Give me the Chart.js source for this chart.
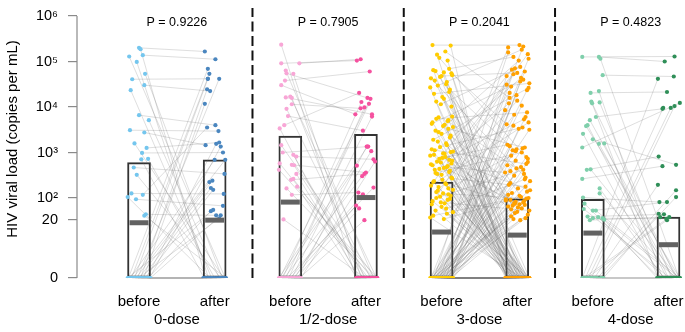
<!DOCTYPE html>
<html>
<head>
<meta charset="utf-8">
<script src="https://cdn.jsdelivr.net/npm/chart.js@4.4.0/dist/chart.umd.min.js"></script>
<style>
  html, body { margin: 0; padding: 0; background: #fff; }
</style>
</head>
<body>
<canvas id="vl-chart" width="685" height="332"></canvas>
<script>
// viral load as log10(copies per mL); 0 = undetectable (plotted at 0)
var groups = ['0-dose', '1/2-dose', '3-dose', '4-dose'];
var sides = ['before', 'after'];
var pValues = ['P = 0.9226', 'P = 0.7905', 'P = 0.2041', 'P = 0.4823'];
var barBefore = [2.78, 3.36, 2.35, 1.96];
var barAfter = [2.84, 3.40, 1.97, 1.39];
var medianBefore = [1.28, 1.87, 1.20, 1.19];
var medianAfter = [1.30, 2.01, 1.17, 1.06];
var tickCopies = [0, 20, 100, 1e3, 1e4, 1e5, 1e6];
var tickLabels = ['0', '20', '10²', '10³', '10⁴', '10⁵', '10⁶'];

// 0-dose, paired per subject (jitter in hundredths of a slot)
var before0 = [5.30, 5.14, 4.61, 4.48, 3.82, 3.49, 3.44, 3.10, 2.99, 2.67, 2.10, 1.96, 1.48, 2.07,
  5.27, 5.11, 4.99, 4.73, 4.37, 3.71, 3.20, 2.85, 2.86, 2.51, 2.02, 1.44,
  0, 0, 0, 0, 0, 0, 0, 0, 0, 0, 0, 0, 0, 0, 0, 0, 0, 0,
  0, 0, 0, 0, 0, 0];
var after0 = [5.22, 5.05, 4.62, 4.35, 3.60, 3.47, 3.16, 3.22, 3.00, 2.53, 2.09, 1.75, 1.45, 3.55,
  0, 0, 0, 0, 0, 0, 0, 0, 0, 0, 0, 0,
  4.84, 4.73, 4.62, 4.62, 4.39, 4.07, 3.19, 3.13, 2.84, 2.84, 2.35, 2.38, 2.22, 2.18, 1.58, 1.62, 1.45, 1.35,
  0, 0, 0, 0, 0, 0];
var jitB0 = [0, 5, -9, 7, 0, -12, 7, 10, 4, -7, -10, -4, 9, 5,
  2, -13, -3, 8, -11, 13, -6, 3, 12, -3, -15, 7,
  -14, -10, -6, -2, 2, 6, 10, 14, -12, -8, -4, 0, 4, 8, 12, -15, 15, -1,
  -9, 11, -5, 3, 13, -1];
var jitA0 = [-13, 1, -9, -6, 1, 5, -12, 6, 11, 13, 12, 11, 2, -10,
  -12, 14, -8, 10, -4, 6, 12, -14, 0, 8, -6, 15,
  -9, -7, -9, 6, -10, -13, 2, 8, 0, 14, -7, -3, -5, -2, -5, -2, 8, 6,
  3, -10, 9, -3, 13, -15];

// 1/2-dose
var before12 = [4.96, 4.96, 4.58, 4.74, 4.48, 4.21, 4.06, 3.80, 3.60, 3.00, 2.91, 2.73, 2.40, 2.07,
  5.37, 4.80, 4.73, 4.23, 4.20, 3.96, 3.53, 3.16, 2.95, 2.76, 2.72, 2.62, 2.53, 2.42, 2.25, 2.21, 1.32,
  0, 0, 0, 0, 0, 0, 0, 0, 0, 0, 0, 0, 0, 0, 0, 0,
  0, 0, 0, 0, 0];
var after12 = [5.02, 5.05, 4.78, 4.20, 3.84, 3.84, 3.97, 3.48, 4.31, 3.13, 2.85, 2.56, 2.53, 2.12,
  0, 0, 0, 0, 0, 0, 0, 0, 0, 0, 0, 0, 0, 0, 0, 0, 0,
  4.18, 4.11, 4.07, 3.99, 3.79, 3.03, 3.13, 2.80, 2.71, 2.48, 2.23, 2.08, 1.76, 1.67, 1.30, 3.13,
  0, 0, 0, 0, 0];
var jitB12 = [-12, 12, -7, -5, -12, -6, 2, -3, -8, -10, 8, 2, 1, 2,
  -12, -6, 4, 0, 2, -5, -14, -12, 4, -14, 5, -15, 8, 4, 9, -5, -9,
  -14, -10, -6, -2, 2, 6, 10, 14, -12, -8, -4, 0, 4, 8, 12, -15,
  -11, 5, -3, 13, 1];
var jitA12 = [-12, -7, 5, 2, -14, 8, -7, -4, -9, 3, 10, 0, -2, -10,
  -13, 10, -6, 14, -2, 6, -10, 12, -4, 8, 0, 15, -8, 3, -12, 11, -1,
  6, -6, 4, -2, 8, 7, 1, 12, -12, -5, 10, -4, -13, -9, -2, 2,
  7, -11, 1, 15, -7];

// 3-dose
var before3 = [5.36, 5.22, 5.08, 4.84, 4.79, 4.74, 4.68, 4.63, 4.55, 4.47,
  4.38, 4.29, 4.18, 4.06, 3.79, 3.74, 3.69, 3.63, 3.58, 3.52,
  3.45, 3.37, 3.28, 3.20, 3.12, 3.02, 3.05, 2.97, 2.93, 2.88,
  2.84, 2.80, 2.76, 2.72, 2.68, 2.64, 2.60, 2.55, 2.51, 2.43,
  2.37, 2.32, 2.27, 2.21, 2.16, 2.10, 2.05, 2.00, 1.94, 1.86,
  1.80, 1.66, 1.55, 1.44, 1.33,
  5.35, 5.15, 5.02, 4.81, 4.76, 4.70, 4.66, 4.58, 4.50, 4.43,
  4.33, 4.22, 4.12, 4.01, 3.77, 3.71, 3.66, 3.61, 3.56, 3.48,
  3.41, 3.33, 3.24, 3.16, 3.07, 2.98, 3.01, 2.95, 2.90, 2.86,
  2.82, 2.78, 2.74, 2.70, 2.66, 2.62, 2.57, 2.53, 2.45, 2.40,
  2.35, 2.30, 2.24, 2.18, 2.13, 2.08, 2.03, 1.97, 1.90, 1.83,
  1.72, 1.60, 1.50, 1.38,
  0, 0, 0, 0, 0, 0, 0, 0, 0, 0, 0, 0, 0, 0, 0, 0, 0, 0, 0, 0, 0, 0, 0,
  0, 0, 0, 0, 0, 0, 0, 0, 0, 0, 0, 0, 0, 0, 0, 0, 0, 0, 0, 0, 0, 0, 0,
  0, 0, 0, 0, 0, 0, 0, 0, 0, 0, 0, 0, 0, 0, 0];
var after3 = [5.36, 4.20, 2.86, 5.10, 1.90, 3.62, 4.75, 2.45, 1.64, 5.26,
  3.03, 4.52, 2.07, 4.88, 1.76, 3.88, 2.65, 4.60, 1.96, 3.11,
  5.02, 2.33, 4.42, 1.84, 3.55, 4.08, 2.75, 1.52, 4.64, 3.17,
  2.17, 4.82, 1.70, 3.73, 2.56, 5.16, 1.88, 3.00, 4.31, 2.25,
  4.72, 1.80, 3.66, 2.93, 4.14, 1.98, 5.31, 2.62, 3.83, 1.60,
  4.49, 2.41, 3.07, 2.02, 1.94,
  0, 0, 0, 0, 0, 0, 0, 0, 0, 0, 0, 0, 0, 0, 0, 0, 0, 0, 0, 0, 0, 0, 0, 0, 0, 0, 0,
  0, 0, 0, 0, 0, 0, 0, 0, 0, 0, 0, 0, 0, 0, 0, 0, 0, 0, 0, 0, 0, 0, 0, 0, 0, 0, 0,
  5.33, 5.20, 5.06, 4.85, 4.78, 4.68, 4.56, 4.45, 4.37, 4.26,
  4.03, 3.93, 3.78, 3.59, 3.52, 3.50, 3.14, 3.09, 3.05, 2.90,
  2.82, 2.79, 2.72, 2.68, 2.59, 2.53, 2.49, 2.37, 2.29, 2.21,
  2.14, 2.11, 2.05, 2.00, 1.92, 1.86, 1.82, 1.78, 1.73, 1.67,
  1.56, 1.47, 1.42, 1.36, 1.33, 1.30,
  0, 0, 0, 0, 0, 0, 0, 0, 0, 0, 0, 0, 0, 0, 0];
var jitB3 = [-12, 5, -3, 10, -8, 13, 0, -14, 7, -5, 11, -10, 3, -1, 14, -7, 8, -13, 2, 9,
  -4, 12, -11, 6, -2, 15, -9, 4, -15, 1, 10, -6, 13, -12, 7, -3, 11, -8, 0, 14,
  -10, 5, -14, 9, -5, 2, 12, -7, 8, -1, -13, 6, 15, -11, 3,
  12, -6, 8, -11, 3, 14, -2, -9, 6, -15, 10, 1, -7, 13, -4, 9, -12, 4, 15, -8,
  0, 11, -5, 7, -13, 2, 12, -10, 5, -3, 14, -1, -14, 8, 3, -9, 10, -6, 13, 1,
  -11, 6, -4, 15, -7, 9, -2, 11, -12, 4, 0, -8, 7, -15,
  -14, -10, -6, -2, 2, 6, 10, 14, -12, -8, -4, 0, 4, 8, 12, -15, -11, -7, -3, 1,
  5, 9, 13, -13, -9, -5, -1, 3, 7, 11, 15, -14, -10, -6, -2, 2, 6, 10, 14, -12,
  -8, -4, 0, 4, 8, 12,
  -13, 9, -5, 1, 11, -9, 5, -1, 13, -3, 7, -11, 3, 15, -7];
var jitA3 = [3, -10, 14, -5, 9, -14, 0, 11, -8, 6, -2, 16, -12, 4, -6, 13, -1, 8, -15, 10,
  2, -9, 15, -4, 7, -11, 12, -3, 5, -13, 17, -7, 1, 9, -16, 14, -2, 6, -10, 11,
  -5, 3, 15, -8, 0, 12, -12, 8, -4, 16, -14, 10, -1, 5, -9,
  -15, -11, -7, -3, 1, 5, 9, 13, 16, -13, -9, -5, -1, 3, 7, 11, 15, -14, -10, -6,
  -2, 2, 6, 10, 14, -12, -8, -4, 0, 4, 8, 12, 16, -15, -11, -7, -3, 1, 5, 9,
  13, -13, -9, -5, -1, 3, 7, 11, 15, -10, -6, -2, 2, 6,
  8, -12, 15, -3, 10, -14, 4, -8, 13, -1, 6, -16, 11, -5, 2, 16, -10, 7, -6, 12,
  -2, 14, -13, 5, -9, 9, -4, 17, -11, 1, 13, -7, 3, 15, -15, 8, -3, 10, -12, 6,
  0, 14, -8, 11, -5, 4,
  12, -8, 4, -14, 16, -2, 8, -12, 0, 14, -6, 10, -10, 2, -16];

// 4-dose
var before4 = [5.10, 5.10, 4.70, 4.31, 3.78, 3.11, 2.62, 2.42, 3.29, 2.01, 1.60, 1.41, 1.30, 1.36,
  5.06, 4.35, 4.12, 4.08, 4.10, 3.71, 3.60, 3.58, 3.41, 3.19, 3.20, 2.63, 2.21, 2.10, 1.82, 1.65, 1.60, 1.39, 1.36, 1.31,
  0, 0, 0, 0, 0, 0, 0, 0, 0, 0,
  0, 0, 0, 0];
var after4 = [5.11, 5.00, 4.67, 4.33, 3.96, 4.09, 2.91, 2.70, 2.73, 1.87, 1.87, 1.48, 1.39, 1.34,
  0, 0, 0, 0, 0, 0, 0, 0, 0, 0, 0, 0, 0, 0, 0, 0, 0, 0, 0, 0,
  4.62, 3.98, 3.98, 4.02, 2.29, 2.17, 2.02, 1.50, 1.39, 1.30,
  0, 0, 0, 0];
var jitB4 = [-14, 8, 13, -3, 4, -14, -8, -14, 0, -13, 0, -7, -4, 0,
  10, 8, -2, -1, 9, -4, -7, -9, -13, 8, 15, -3, 9, 9, -11, -12, 4, 7, 13, 15,
  -14, -10, -6, -2, 2, 6, 10, 14, -12, -8,
  -4, 0, 4, 12];
var jitA4 = [8, -5, 7, -2, -8, 15, -13, -8, 10, -12, -2, -6, -11, -3,
  14, -8, 10, -14, 4, 12, -2, 15, -10, 6, 0, 13, -6, 9, -12, 2, 15, -4, 11, -15,
  -14, -7, 3, 8, -14, 10, 10, -13, 1, -2,
  -9, 5, -13, 7];

var colorsBefore = ['#74c6ee', '#f8a6d6', '#ffcc00', '#7fcfab'];
var colorsAfter = ['#4a86bf', '#f5519f', '#ffa000', '#2f8f58'];

// axis mapping: log10 above 100, compressed 20..100, linear 0..20
var P20 = 58 / 45.5, P100 = 80 / 45.5;
function pos(e) {
  if (!e) return 0;
  if (e >= 2) return e - 2 + P100;
  var l20 = Math.log10(20);
  if (e >= l20) return P20 + (e - l20) / Math.log10(5) * (P100 - P20);
  return Math.pow(10, e) / 20 * P20;
}
var yTop = pos(6);
var yMax = yTop + 16 / 45.5;
var xMin = 0.18, xMax = 8.205;
var font = '"Liberation Sans", Arial, sans-serif';

var groupData = [
  { b: before0, a: after0, jb: jitB0, ja: jitA0 },
  { b: before12, a: after12, jb: jitB12, ja: jitA12 },
  { b: before3, a: after3, jb: jitB3, ja: jitA3 },
  { b: before4, a: after4, jb: jitB4, ja: jitA4 }
];

var datasets = [];

// bars
var barPoints = [];
barBefore.forEach(function (v, g) {
  barPoints.push({ x: 2 * g + 1, y: pos(v) });
  barPoints.push({ x: 2 * g + 2, y: pos(barAfter[g]) });
});
datasets.push({
  type: 'bar', data: barPoints, barThickness: 23, grouped: false,
  backgroundColor: 'rgba(255,255,255,0)', borderColor: '#333',
  borderWidth: 1.3, borderSkipped: false, order: 6
});

// paired lines and points
groupData.forEach(function (g, gi) {
  var xb = 2 * gi + 1, xa = 2 * gi + 2;
  var ptsB = [], ptsA = [];
  g.b.forEach(function (v, i) {
    var bx = xb + (g.jb[i] || 0) / 100, by = pos(v);
    var ax = xa + (g.ja[i] || 0) / 100, ay = pos(g.a[i]);
    ptsB.push({ x: bx, y: by });
    ptsA.push({ x: ax, y: ay });
    datasets.push({
      type: 'line', data: [{ x: bx, y: by }, { x: ax, y: ay }],
      borderColor: 'rgba(95,95,95,0.28)', borderWidth: 0.75,
      pointRadius: 0, fill: false, tension: 0, order: 5, clip: false
    });
  });
  // clipped to the plot area so undetectable points show as a thin band
  datasets.push({ type: 'scatter', data: ptsB, backgroundColor: colorsBefore[gi], pointRadius: 2.1, borderWidth: 0, order: 2, clip: 0 });
  datasets.push({ type: 'scatter', data: ptsA, backgroundColor: colorsAfter[gi], pointRadius: 2.1, borderWidth: 0, order: 2, clip: 0 });
});

// medians
var medPoints = [];
medianBefore.forEach(function (v, g) {
  medPoints.push({ x: 2 * g + 1, y: pos(v) });
  medPoints.push({ x: 2 * g + 2, y: pos(medianAfter[g]) });
});
datasets.push({
  type: 'scatter', data: medPoints, pointStyle: 'line', pointRadius: 9.5,
  borderColor: '#626262', pointBorderColor: '#626262', pointBorderWidth: 5, order: 1, clip: false
});

// dashed separators
[2.5, 4.5, 6.5].forEach(function (xv) {
  datasets.push({
    type: 'line', data: [{ x: xv, y: 0 }, { x: xv, y: yTop + 8 / 45.5 }],
    borderColor: '#111', borderWidth: 2, borderDash: [10, 4.5],
    pointRadius: 0, order: 3, clip: false
  });
});

// y axis line (0 to 10^6 only)
datasets.push({
  type: 'line', data: [{ x: xMin, y: 0 }, { x: xMin, y: yTop }],
  borderColor: '#8a8a8a', borderWidth: 1.2, pointRadius: 0, order: 3, clip: false
});

var pLabelPlugin = {
  id: 'pLabels',
  afterDatasetsDraw: function (chart) {
    var ctx = chart.ctx, xs = chart.scales.x;
    ctx.save();
    ctx.font = '12.5px ' + font;
    ctx.fillStyle = '#000';
    ctx.textAlign = 'center';
    ctx.textBaseline = 'middle';
    pValues.forEach(function (p, g) {
      ctx.fillText(p, xs.getPixelForValue(2 * g + 1.5), 23);
    });
    ctx.restore();
  }
};

function noPad(scale) {
  scale.paddingLeft = 0; scale.paddingRight = 0;
  scale.paddingTop = 0; scale.paddingBottom = 0;
}

new Chart(document.getElementById('vl-chart'), {
  type: 'scatter',
  data: { datasets: datasets },
  plugins: [pLabelPlugin],
  options: {
    responsive: false,
    animation: false,
    layout: { autoPadding: false, padding: { left: 0, right: 1, top: 0, bottom: 3 } },
    plugins: { legend: { display: false }, tooltip: { enabled: false } },
    scales: {
      x: {
        type: 'linear', min: xMin, max: xMax, position: 'bottom', weight: 0, offset: false,
        grid: { display: false, drawTicks: false, offset: false }, border: { display: false },
        afterBuildTicks: function (scale) {
          scale.ticks = [1, 2, 3, 4, 5, 6, 7, 8].map(function (v) { return { value: v }; });
        },
        afterFit: function (scale) { scale.height = 32; noPad(scale); },
        ticks: {
          autoSkip: false, maxRotation: 0, padding: 15, color: '#000',
          font: { family: font, size: 15 },
          callback: function (value, index) { return sides[index % 2]; }
        }
      },
      x2: {
        type: 'linear', min: xMin, max: xMax, position: 'bottom', weight: 1, offset: false,
        grid: { display: false, drawTicks: false, offset: false }, border: { display: false },
        afterBuildTicks: function (scale) {
          scale.ticks = [1.5, 3.5, 5.5, 7.5].map(function (v) { return { value: v }; });
        },
        afterFit: function (scale) { scale.height = 19; noPad(scale); },
        ticks: {
          autoSkip: false, maxRotation: 0, padding: 1, color: '#000',
          font: { family: font, size: 15 },
          callback: function (value, index) { return groups[index]; }
        }
      },
      y: {
        type: 'linear', min: 0, max: yMax,
        afterBuildTicks: function (scale) {
          scale.ticks = tickCopies.map(function (v) { return { value: pos(v > 0 ? Math.log10(v) : 0) }; });
        },
        afterFit: function (scale) { scale.width = 77; noPad(scale); },
        grid: { drawOnChartArea: false, drawTicks: true, tickLength: 9, color: '#8a8a8a', lineWidth: 1.2 },
        border: { display: false },
        ticks: {
          padding: 10, color: '#000',
          font: { family: font, size: 14.5 },
          callback: function (value, index) { return tickLabels[index]; }
        },
        title: {
          display: true, text: 'HIV viral load (copies per mL)', color: '#000',
          font: { family: font, size: 15 }, padding: { top: 4, bottom: 0 }
        }
      }
    }
  }
});
</script>
</body>
</html>
